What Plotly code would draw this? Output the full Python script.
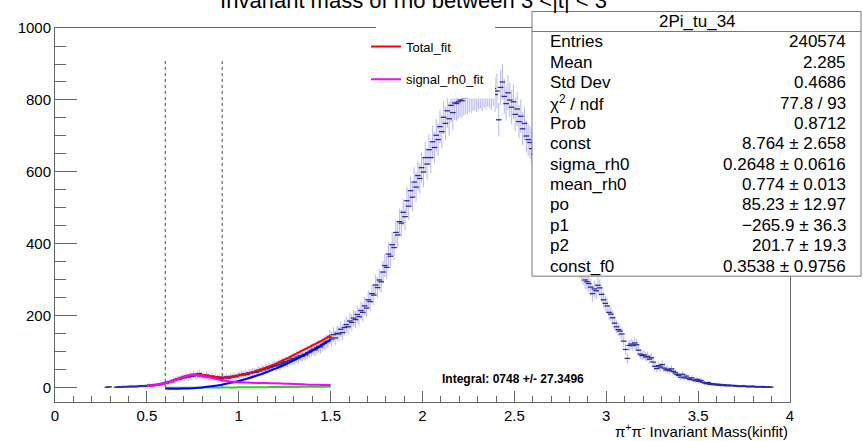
import plotly.graph_objects as go

# ---------------- data ----------------
bin_low = 0.28
bin_width = 0.01
counts = [
    2, 3, 0, 0, 0, 2, 3, 2, 3, 4,
    3, 4, 3, 5, 4, 3, 5, 4, 6, 5,
    6, 5, 7, 8, 6, 9, 8, 10, 9, 12,
    11, 14, 13, 16, 18, 17, 21, 22, 25, 24,
    27, 29, 28, 33, 30, 35, 32, 38, 34, 36,
    40, 33, 35, 31, 36, 30, 29, 33, 28, 31,
    27, 30, 26, 29, 28, 31, 27, 32, 30, 33,
    31, 35, 34, 38, 36, 40, 37, 42, 41, 44,
    45, 43, 49, 47, 52, 50, 55, 53, 58, 56,
    60, 63, 61, 66, 64, 70, 68, 73, 72, 76,
    78, 82, 80, 86, 84, 90, 88, 94, 92, 98,
    100, 104, 108, 106, 112, 116, 114, 120, 124, 128,
    130, 141, 136, 148, 139, 152, 150, 163, 154, 168,
    176, 170, 186, 182, 194, 190, 204, 198, 215, 210,
    228, 222, 245, 240, 262, 258, 286, 279, 300, 295,
    322, 340, 335, 372, 366, 398, 390, 432, 425, 462,
    458, 488, 476, 520, 505, 548, 530, 572, 558, 590,
    582, 612, 600, 640, 622, 662, 640, 684, 668, 702,
    690, 726, 712, 752, 735, 770, 748, 785, 765, 792,
    790, 795, 800, 798, 805, 810, 808, 815, 812, 818,
    820, 815, 822, 825, 818, 828, 822, 830, 826, 820,
    832, 815, 825, 745, 835, 850, 810, 790, 820, 800,
    780, 795, 760, 775, 740, 755, 720, 735, 700, 690,
    682, 665, 650, 640, 625, 610, 598, 585, 570, 555,
    542, 528, 515, 500, 488, 475, 462, 448, 436, 425,
    412, 400, 390, 378, 366, 355, 345, 335, 325, 318,
    300, 295, 290, 280, 262, 275, 270, 285, 278, 260,
    245, 235, 228, 210, 205, 195, 180, 170, 162, 158,
    150, 130, 107, 82, 118, 122, 118, 125, 120, 105,
    94, 90, 92, 86, 88, 80, 84, 72, 60, 54,
    62, 58, 65, 55, 50, 52, 48, 53, 46, 42,
    38, 35, 30, 38, 28, 33, 27, 24, 28, 22,
    20, 24, 18, 21, 16, 14, 12, 15, 10, 12,
    9, 11, 8, 10, 7, 9, 8, 6, 8, 7,
    6, 7, 5, 6, 4, 5, 6, 4, 5, 3,
    4, 5, 3, 4, 3, 3, 4, 2, 3, 3,
    3, 2,
]

# bin errors (weighted histogram, read from the error-bar lengths)
errors = [
    2.4, 2.9, 0, 0, 0, 2.4, 2.9, 2.4, 2.9, 3.4,
    2.9, 3.4, 2.9, 3.8, 3.4, 2.9, 3.8, 3.4, 4.2, 3.8,
    4.2, 3.8, 4.5, 4.8, 4.2, 5.1, 4.8, 5.4, 5.1, 5.9,
    5.6, 6.4, 6.1, 6.8, 7.2, 7.0, 7.8, 8.0, 8.5, 8.3,
    8.8, 9.2, 9.0, 9.8, 9.3, 10.1, 9.6, 10.5, 9.9, 10.2,
    10.8, 9.8, 10.1, 9.5, 10.2, 9.3, 9.2, 9.8, 9.0, 9.5,
    8.8, 9.3, 8.7, 9.2, 9.0, 9.5, 8.8, 9.6, 9.3, 9.8,
    9.5, 10.1, 9.9, 10.5, 10.2, 10.8, 10.3, 11.0, 10.9, 11.3,
    11.4, 11.1, 11.9, 11.7, 12.3, 12.0, 12.6, 12.4, 12.9, 12.7,
    13.2, 13.5, 13.3, 13.8, 13.6, 14.2, 14.0, 14.5, 14.4, 14.8,
    15.0, 15.4, 15.2, 15.8, 15.6, 16.1, 16.0, 16.5, 16.3, 16.8,
    17.0, 17.3, 17.7, 17.5, 18.0, 18.3, 18.2, 18.6, 18.9, 19.2,
    19.5, 19.8, 20.1, 20.5, 20.3, 20.8, 21.2, 21.5, 21.4, 21.8,
    22.3, 22.5, 22.8, 23.3, 23.1, 23.7, 24.0, 24.5, 24.8, 25.2,
    25.5, 25.9, 26.3, 27.0, 27.3, 27.9, 28.5, 28.9, 29.3, 30.0,
    30.6, 31.3, 31.9, 32.6, 33.1, 33.8, 34.4, 35.2, 35.7, 36.3,
    36.9, 37.3, 37.9, 38.5, 38.8, 39.5, 39.9, 40.2, 40.8, 41.1,
    41.5, 41.8, 42.3, 42.6, 43.0, 43.3, 43.7, 44.1, 44.5, 44.9,
    45.1, 45.6, 45.9, 46.2, 46.6, 46.8, 47.0, 47.2, 47.4, 47.6,
    47.8, 47.9, 48.1, 48.0, 48.2, 48.4, 48.3, 48.5, 48.4, 48.6,
    48.7, 48.5, 48.7, 48.8, 48.6, 48.9, 48.7, 49.0, 48.9, 48.7,
    49.0, 48.5, 48.8, 46.4, 49.1, 49.6, 48.4, 47.8, 48.7, 48.1,
    47.5, 47.9, 46.9, 47.3, 46.2, 46.7, 45.6, 46.1, 45.0, 44.7,
    44.4, 43.8, 43.3, 43.0, 42.5, 42.0, 41.6, 41.1, 40.6, 40.0,
    39.6, 39.1, 38.6, 38.0, 37.6, 37.0, 36.5, 36.0, 35.5, 35.0,
    34.5, 34.0, 33.5, 33.0, 32.5, 32.0, 31.6, 31.1, 30.6, 30.3,
    24.2, 24.0, 23.8, 23.4, 22.7, 23.2, 23.0, 23.6, 23.3, 22.5,
    22.0, 21.4, 21.1, 20.3, 20.0, 19.6, 18.8, 18.2, 17.8, 17.6,
    17.1, 16.0, 14.4, 12.7, 15.3, 15.4, 15.3, 15.7, 15.4, 14.3,
    13.6, 13.3, 13.4, 13.0, 13.2, 12.5, 12.9, 11.9, 10.8, 10.2,
    11.1, 10.6, 11.3, 10.4, 9.9, 10.1, 9.7, 10.2, 9.5, 9.1,
    8.7, 8.3, 7.7, 8.7, 7.4, 8.0, 7.3, 6.9, 7.4, 6.6,
    6.3, 6.9, 5.9, 6.4, 5.6, 5.2, 4.9, 5.5, 4.5, 4.9,
    4.2, 4.6, 4.0, 4.4, 3.7, 4.2, 4.0, 3.4, 4.0, 3.7,
    3.4, 3.7, 3.1, 3.4, 2.8, 3.1, 3.4, 2.8, 3.1, 2.4,
    2.8, 3.1, 2.4, 2.8, 2.4, 2.4, 2.8, 2.0, 2.4, 2.4,
    2.4, 2.0,
]

fit_x = [0.50, 0.55, 0.60, 0.65, 0.70, 0.75, 0.80, 0.85, 0.90, 0.95, 1.00,
         1.05, 1.10, 1.15, 1.20, 1.25, 1.30, 1.35, 1.40, 1.45, 1.50]
total_fit = [5, 8, 13, 22, 31, 37, 36, 32, 29, 30, 35,
             40, 48, 57, 67, 79, 92, 105, 118, 131, 146]
signal_rh0_fit = [5, 8, 13, 21, 30, 36, 34, 28, 22, 18, 16,
                  15, 14, 13.5, 13, 12, 11, 10, 9, 8.5, 8]

bkg_x = [0.60, 0.65, 0.70, 0.75, 0.80, 0.85, 0.90, 0.95, 1.00, 1.05,
         1.10, 1.15, 1.20, 1.25, 1.30, 1.35, 1.40, 1.45, 1.50]
bkg_poly = [-1.5, -2.0, -1.8, -0.5, 1.5, 4.5, 8.5, 13.5, 19.5, 26.5,
            34.5, 43.5, 53.5, 64.5, 76.5, 89.5, 103.5, 118.5, 135]
bkg_f0 = [0.3, 0.4, 0.5, 0.7, 0.9, 1.1, 1.3, 1.5, 1.7, 1.9,
          2.1, 2.3, 2.5, 2.7, 2.9, 3.1, 3.3, 3.5, 3.7]

cut_lines = [0.60, 0.91]
cut_top = 910

stats_title = "2Pi_tu_34"
stats_labels = ["Entries", "Mean", "Std Dev", "χ<sup>2</sup> / ndf", "Prob", "const",
                "sigma_rh0", "mean_rh0", "po", "p1", "p2", "const_f0"]
stats_values = ["240574", "2.285", "0.4686", "77.8 / 93", "0.8712",
                "8.764 ± 2.658", "0.2648 ± 0.0616", "0.774 ± 0.013",
                "85.23 ± 12.97", "−265.9 ± 36.3", "201.7 ± 19.3", "0.3538 ± 0.9756"]

title_text = "Invariant mass of rho between 3 <|t| < 3"
x_title = "π<sup>+</sup>π<sup>-</sup> Invariant Mass(kinfit)"
integral_text = "<b>Integral: 0748 +/- 27.3496</b>"

# ---------------- figure ----------------
W, H = 863, 441
ML, MR, MT, MB = 55, 73, 27.5, 39
PW, PH = W - ML - MR, H - MT - MB


def px(p):
    return (p - ML) / PW


def py(p):
    return (H - MB - p) / PH


FONT = "Liberation Sans, Arial, Helvetica, sans-serif"
AXC = "#666666"

centers = [round(bin_low + (i + 0.5) * bin_width, 4) for i in range(len(counts))]
keep = [i for i, n in enumerate(counts) if n > 0]
hx = [centers[i] for i in keep]
hy = [counts[i] for i in keep]
he = [errors[i] for i in keep]

fig = go.Figure()
fig.add_trace(go.Scatter(
    x=hx, y=hy, mode="markers", name="2Pi_tu_34", showlegend=False,
    marker=dict(symbol="line-ew-open", size=4, color="#2a2aa8",
                line=dict(width=1.3, color="#2a2aa8")),
    error_y=dict(type="data", array=he, color="rgba(95,95,215,0.42)",
                 thickness=1.1, width=0),
    hoverinfo="x+y",
))
fig.add_trace(go.Scatter(x=bkg_x, y=bkg_f0, mode="lines", showlegend=False,
                         line=dict(color="#33cc33", width=2, shape="spline"), name="f0"))
fig.add_trace(go.Scatter(x=bkg_x, y=bkg_poly, mode="lines", showlegend=False,
                         line=dict(color="#0000ff", width=2, shape="spline"), name="bkg"))
fig.add_trace(go.Scatter(x=fit_x, y=total_fit, mode="lines", name="Total_fit",
                         legendgroup="a",
                         line=dict(color="#ff0000", width=2, shape="spline")))
fig.add_trace(go.Scatter(x=fit_x, y=signal_rh0_fit, mode="lines", name="signal_rh0_fit",
                         legendgroup="b",
                         line=dict(color="#ff00ff", width=2, shape="spline")))

shapes = []
for c in cut_lines:
    shapes.append(dict(type="line", xref="x", yref="y", x0=c, x1=c, y0=0, y1=cut_top,
                       line=dict(color="#444444", width=1, dash="dot"), layer="below"))
# legend background box (white, no border, covers data like the ROOT TLegend)
shapes.append(dict(type="rect", xref="paper", yref="paper",
                   x0=px(376), x1=px(495), y0=py(98), y1=py(18),
                   fillcolor="white", line=dict(width=0), layer="above"))
# stats box
shapes.append(dict(type="rect", xref="paper", yref="paper",
                   x0=px(532), x1=px(861), y0=py(276), y1=py(11),
                   fillcolor="white", line=dict(color="#777777", width=1), layer="above"))
shapes.append(dict(type="line", xref="paper", yref="paper",
                   x0=px(532), x1=px(861), y0=py(31), y1=py(31),
                   line=dict(color="#777777", width=1), layer="above"))

ann = []
ann.append(dict(text=stats_title, xref="paper", yref="paper", x=px(697), y=py(21),
                xanchor="center", yanchor="middle", showarrow=False,
                font=dict(family=FONT, size=17, color="black")))
for i, (lab, val) in enumerate(zip(stats_labels, stats_values)):
    yy = py(41.5 + 20.4 * i)
    ann.append(dict(text=lab, xref="paper", yref="paper", x=px(548), y=yy,
                    xanchor="left", yanchor="middle", showarrow=False,
                    font=dict(family=FONT, size=17, color="black")))
    ann.append(dict(text=val, xref="paper", yref="paper", x=px(848), y=yy,
                    xanchor="right", yanchor="middle", showarrow=False,
                    font=dict(family=FONT, size=17, color="black")))
ann.append(dict(text=integral_text, xref="x", yref="y", x=2.49, y=26,
                xanchor="center", yanchor="middle", showarrow=False,
                font=dict(family=FONT, size=12, color="black")))
ann.append(dict(text=x_title, xref="paper", yref="paper", x=1.0, y=py(431),
                xanchor="right", yanchor="middle", showarrow=False,
                font=dict(family=FONT, size=15, color="black")))

fig.update_layout(
    width=W, height=H,
    margin=dict(l=ML, r=MR, t=MT, b=MB),
    paper_bgcolor="white", plot_bgcolor="white",
    font=dict(family=FONT, color="black"),
    title=dict(text=title_text, x=421 / W, xanchor="center", xref="paper",
               yref="container", y=1.0, yanchor="middle",
               font=dict(family=FONT, size=22, color="black")),
    shapes=shapes, annotations=ann,
    showlegend=True,
    legend=dict(x=px(366), y=py(31), xanchor="left", yanchor="top",
                bgcolor="rgba(255,255,255,0)", borderwidth=0, tracegroupgap=13,
                font=dict(family=FONT, size=13, color="black")),
    xaxis=dict(range=[0, 4], tick0=0, dtick=0.5, ticks="inside", ticklen=11,
               tickwidth=1, tickcolor=AXC,
               minor=dict(dtick=0.1, ticks="inside", ticklen=6, tickcolor=AXC),
               showgrid=False, zeroline=False, showline=True, mirror=True,
               linecolor=AXC, linewidth=1,
               tickfont=dict(family=FONT, size=15, color="black")),
    yaxis=dict(range=[-39, 1000], tick0=0, dtick=200, ticks="inside", ticklen=22,
               tickwidth=1, tickcolor=AXC,
               minor=dict(dtick=50, ticks="inside", ticklen=11, tickcolor=AXC),
               showgrid=False, zeroline=False, showline=True, mirror=True,
               linecolor=AXC, linewidth=1,
               tickfont=dict(family=FONT, size=15, color="black")),
)

fig.write_html("out.html", config={"displayModeBar": False},
               post_script="document.body.style.margin='0px';")
